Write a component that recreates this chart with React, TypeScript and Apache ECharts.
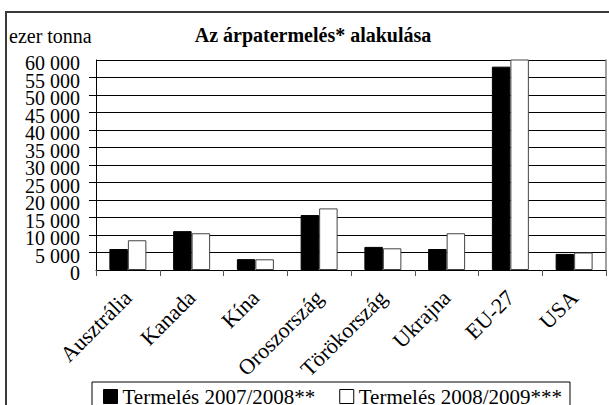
import React, { useEffect, useRef } from "react";
import * as echarts from "echarts";

const categories = ["Ausztrália", "Kanada", "Kína", "Oroszország", "Törökország", "Ukrajna", "EU-27", "USA"];
const seriesNames = ["Termelés 2007/2008**", "Termelés 2008/2009***"];
const prod2007 = [6000, 11100, 3100, 15700, 6600, 6000, 58100, 4600];
const prod2008 = [8500, 10500, 3050, 17600, 6200, 10500, 65600, 5000];
const yTickLabels = ["0", "5 000", "10 000", "15 000", "20 000", "25 000", "30 000", "35 000", "40 000", "45 000", "50 000", "55 000", "60 000"];

const FONT = "Liberation Serif";
const yLabelBase = {
  margin: 16,
  fontFamily: FONT,
  fontSize: 20,
  lineHeight: 6,
  verticalAlign: "top",
  color: "#000",
  hideOverlap: false,
};

export default function App() {
  const ref = useRef<HTMLDivElement>(null);
  useEffect(() => {
    if (!ref.current) return;
    const chart = echarts.init(ref.current, undefined, { renderer: "svg" });
    chart.setOption({
      animation: false,
      backgroundColor: "#fff",
      textStyle: { fontFamily: FONT },
      grid: { left: 96, top: 60, width: 510, height: 210 },
      legend: {
        left: 92,
        top: 382,
        padding: [4, 8, 14, 11],
        borderColor: "#000",
        borderWidth: 1,
        itemWidth: 14,
        itemHeight: 14,
        itemGap: 24,
        icon: "rect",
        textStyle: { fontFamily: FONT, fontSize: 21, color: "#000" },
        data: [
          { name: seriesNames[0], itemStyle: { color: "#000", borderColor: "#000", borderWidth: 1 } },
          { name: seriesNames[1], itemStyle: { color: "#fff", borderColor: "#000", borderWidth: 1 } },
        ],
      },
      xAxis: {
        type: "category",
        data: categories,
        axisLine: { show: true, lineStyle: { color: "#000", width: 1 } },
        axisTick: { show: true, length: 6, alignWithLabel: false, lineStyle: { color: "#555" } },
        axisLabel: {
          rotate: 45,
          margin: 24,
          interval: 0,
          fontFamily: FONT,
          fontSize: 22,
          color: "#000",
        },
        splitLine: { show: false },
      },
      yAxis: [
        {
          // labels at even steps (0, 10 000, ... 60 000)
          type: "value",
          min: 0,
          max: 60000,
          interval: 10000,
          position: "left",
          axisLine: { show: false },
          axisTick: { show: false },
          splitLine: { show: false },
          axisLabel: {
            ...yLabelBase,
            showMinLabel: true,
            showMaxLabel: true,
            formatter: (v: number) => yTickLabels[Math.round(v / 5000)],
          },
        },
        {
          // axis line, ticks, grid lines and odd-step labels
          type: "value",
          min: 0,
          max: 60000,
          interval: 5000,
          position: "left",
          axisLine: { show: true, onZero: false, lineStyle: { color: "#000", width: 1 } },
          axisTick: { show: true, length: 7, lineStyle: { color: "#000" } },
          splitLine: { show: true, lineStyle: { color: "#000", width: 1 } },
          axisLabel: {
            ...yLabelBase,
            showMinLabel: false,
            showMaxLabel: false,
            formatter: (v: number) => {
              const i = Math.round(v / 5000);
              return i % 2 === 1 ? yTickLabels[i] : "";
            },
          },
        },
        {
          type: "value",
          position: "right",
          min: 0,
          max: 60000,
          interval: 5000,
          axisLine: { show: true, lineStyle: { color: "#808080", width: 1.5 } },
          axisTick: { show: false },
          axisLabel: { show: false },
          splitLine: { show: false },
        },
      ],
      series: [
        {
          name: seriesNames[0],
          type: "bar",
          yAxisIndex: 1,
          data: prod2007,
          barGap: "0%",
          barCategoryGap: "42%",
          clip: true,
          itemStyle: { color: "#000", borderColor: "#000", borderWidth: 1 },
        },
        {
          name: seriesNames[1],
          type: "bar",
          yAxisIndex: 1,
          data: prod2008,
          barGap: "0%",
          barCategoryGap: "42%",
          clip: true,
          itemStyle: { color: "#fff", borderColor: "#444", borderWidth: 1 },
        },
      ],
      graphic: [
        {
          type: "rect",
          shape: { x: 6, y: 12, width: 640, height: 440 },
          style: { fill: "none", stroke: "#3a3a3a", lineWidth: 2 },
          silent: true,
        },
        {
          type: "text",
          x: 313,
          y: 35,
          style: {
            text: "Az árpatermelés* alakulása",
            font: `bold 20px "${FONT}"`,
            fill: "#000",
            textAlign: "center",
            textVerticalAlign: "middle",
          },
        },
        {
          type: "text",
          x: 9,
          y: 36,
          style: {
            text: "ezer tonna",
            font: `20px "${FONT}"`,
            fill: "#000",
            textAlign: "left",
            textVerticalAlign: "middle",
          },
        },
      ],
    });
    return () => chart.dispose();
  }, []);
  return <div ref={ref} style={{ position: "fixed", left: 0, top: 0, width: 609, height: 405 }} />;
}
